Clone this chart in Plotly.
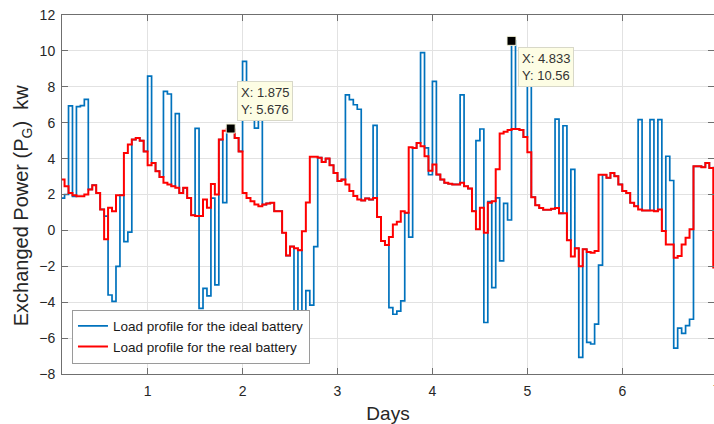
import numpy as np
import plotly.graph_objects as go

# Hourly samples (hour index counted from day 0), first sample at hour 2
start_hour = 2

ideal_battery = [
    1.8, 2.0, 6.94, 1.9, 6.9, 6.95, 7.3, 2.28, 2.52, 2.09,          # h2-h11
    1.17, 0.8, -3.6, -3.95, -2.0, 1.96, -0.63, -0.1, 5.06, 5.15,    # h12-h21
    5.0, 4.4, 8.6, 3.76, 3.3, 2.98, 7.75, 7.6, 2.46, 6.5,           # h22-h31
    2.09, 2.37, 1.81, 0.85, 5.68, -4.34, -3.23, -3.65, 1.8, -3.04,  # h32-h41
    5.06, 1.55, 5.5, 5.676, 5.15, 4.4, 9.42, 7.2, 7.2, 5.7,         # h42-h51
    7.2, 1.44, 1.5, 1.54, 1.07, 1.07, -0.13, -1.4, -0.9, -6.0,      # h52-h61
    -1.1, -5.8, -3.36, -4.16, -0.9, 4.05, 3.81, 4.0, 3.63, 3.2,     # h62-h71
    2.75, 2.83, 7.55, 7.28, 7.0, 6.75, 1.67, 1.78, 1.72, 5.85,      # h72-h81
    0.74, -0.59, -0.81, -4.3, -4.67, -4.5, -3.93, 0.98, -0.37, 4.59,  # h82-h91
    4.87, 9.9, 4.6, 3.1, 8.3, 3.11, 2.83, 2.65, 2.6, 2.56,          # h92-h101
    2.56, 7.55, 2.46, 2.33, 1.07, 5.0, 5.65, -5.13, 1.6, -3.19,     # h102-h111
    1.81, -1.7, 1.5, 0.58, 10.56, 5.65, 5.6, 5.2, 9.0, 1.85,        # h112-h121
    1.4, 1.25, 1.15, 1.15, 1.2, 6.2, 0.95, 5.83, -0.55, 3.4,        # h122-h131
    -1.0, -7.07, -1.05, -6.24, -6.33, -5.22, -1.93, 3.1, 2.93, 3.2, # h132-h141
    3.02, 2.56, 2.19, 2.09, 1.54, 1.35, 6.17, 1.11, 1.11, 6.17,     # h142-h151
    1.07, 6.17, -0.04, 4.13, 2.78, -6.56, -5.44, -5.74, -5.3, -4.95,  # h152-h161
    3.57, 3.57, 3.52, 3.76, 3.48, 3.5,                              # h162-h167
]

real_battery = [
    2.83, 2.46, 2.09, 1.96, 1.9, 1.9, 2.0, 2.28, 2.52, 2.09,        # h2-h11
    1.17, -0.5, 1.26, 1.07, 1.96, 1.96, 4.31, 4.78, 5.06, 5.15,     # h12-h21
    5.0, 4.4, 3.63, 3.76, 3.3, 2.98, 2.65, 2.56, 2.46, 2.37,        # h22-h31
    2.09, 2.37, 1.81, 0.85, 0.8, 0.8, 1.72, 1.26, 2.59, 2.0,        # h32-h41
    5.06, 5.55, 5.65, 5.6, 5.15, 4.4, 2.09, 1.81, 1.63, 1.44,       # h42-h51
    1.35, 1.44, 1.5, 1.54, 1.07, 1.07, -0.13, -1.4, -0.9, -1.0,     # h52-h61
    -1.1, -0.05, 1.55, 4.1, 4.1, 4.05, 3.81, 4.0, 3.63, 3.2,        # h62-h71
    2.75, 2.83, 2.56, 2.19, 1.91, 1.72, 1.67, 1.78, 1.72, 1.81,     # h72-h81
    0.74, -0.59, -0.81, -0.37, 0.33, 0.48, 1.07, 0.98, 4.63, 4.59,  # h82-h91
    4.87, 4.69, 4.13, 3.33, 3.67, 3.11, 2.83, 2.65, 2.6, 2.56,      # h92-h101
    2.56, 2.65, 2.46, 2.33, 1.07, 0.06, 1.26, -0.13, 1.54, 1.63,    # h102-h111
    3.4, 5.4, 5.5, 5.6, 5.65, 5.65, 5.6, 5.2, 4.35, 1.85,           # h112-h121
    1.4, 1.25, 1.15, 1.15, 1.2, 1.25, 0.95, 0.95, -0.55, -1.45,     # h122-h131
    -1.0, -2.0, -1.05, -1.2, -1.25, -1.15, 3.1, 3.1, 2.93, 3.2,     # h132-h141
    3.02, 2.56, 2.19, 2.09, 1.54, 1.35, 1.17, 1.11, 1.11, 1.11,     # h142-h151
    1.07, 1.17, -0.04, -0.78, -0.78, -1.52, -1.43, -0.78, -0.41, 0.06,  # h152-h161
    3.57, 3.57, 3.52, 3.76, 3.48, -2.07,                            # h162-h167
]

tip_x = [1.875, 4.833]
tip_y = [5.676, 10.56]
tip_labels = ["X: 1.875<br>Y: 5.676", "X: 4.833<br>Y: 10.56"]

x_ticks = [1, 2, 3, 4, 5, 6]
y_ticks = list(range(-8, 13, 2))

hours = np.arange(start_hour, start_hour + len(ideal_battery) + 1)
days = hours / 24.0
ideal_y = ideal_battery + [ideal_battery[-1]]
real_y = real_battery + [real_battery[-1]]

FONT = "Liberation Sans, Arial, Helvetica, sans-serif"
AX = "#6f6f6f"
GRID = "#e2e2e2"
TXT = "#262626"

fig = go.Figure()
fig.add_trace(go.Scatter(x=days, y=ideal_y, mode="lines", line_shape="hv",
                         line=dict(color="#0072BD", width=1.7),
                         name="Load profile for the ideal battery"))
fig.add_trace(go.Scatter(x=days, y=real_y, mode="lines", line_shape="hv",
                         line=dict(color="#FF0000", width=2),
                         name="Load profile for the real battery"))
fig.add_trace(go.Scatter(x=tip_x, y=tip_y, mode="markers", showlegend=False,
                         marker=dict(symbol="square", size=9, color="black",
                                     line=dict(color="#f5f5dc", width=1))))
fig.add_trace(go.Scatter(x=[], y=[], yaxis="y2", showlegend=False))

fig.update_layout(
    width=714, height=424,
    margin=dict(l=62, r=0, t=15, b=50),
    paper_bgcolor="white", plot_bgcolor="white",
    font=dict(family=FONT, color=TXT, size=14),
    showlegend=True,
    legend=dict(x=0.0153, y=0.029, xanchor="left", yanchor="bottom",
                bgcolor="white", bordercolor="#9a9a9a", borderwidth=1,
                font=dict(size=13.5, color="#1a1a1a"), tracegroupgap=0),
    xaxis=dict(range=[0.098, 6.966], tickvals=x_ticks, ticks="inside", ticklen=6,
               tickcolor=AX, showline=True, linecolor=AX, linewidth=1, mirror="ticks",
               showgrid=True, gridcolor=GRID, zeroline=False,
               tickfont=dict(size=14, color=TXT), ticklabelstandoff=4,
               title=dict(text="Days", font=dict(size=19, color=TXT), standoff=8)),
    yaxis=dict(range=[-8, 12], tickvals=y_ticks, ticks="inside", ticklen=6,
               tickcolor=AX, showline=True, linecolor=AX, linewidth=1, mirror=False,
               showgrid=True, gridcolor=GRID, zeroline=False,
               tickfont=dict(size=14, color=TXT), ticklabelstandoff=3),
    yaxis2=dict(range=[-8, 12], tickvals=y_ticks, overlaying="y", side="right",
                ticks="inside", ticklen=6, tickcolor=AX, showticklabels=False,
                showgrid=False, showline=False, zeroline=False),
)

fig.add_annotation(text="Exchanged Power (P<sub>G</sub>)&nbsp; kw", textangle=-90,
                   xref="paper", yref="paper", x=-0.0613, y=0.47,
                   xanchor="center", yanchor="middle", showarrow=False,
                   font=dict(size=20, color=TXT))
fig.add_annotation(text="7", xref="paper", yref="paper", x=1.0049, y=-0.045,
                   xanchor="center", yanchor="middle", showarrow=False,
                   font=dict(size=14, color=TXT))

# data tips
fig.add_annotation(x=tip_x[0], y=tip_y[0], text=tip_labels[0], showarrow=False,
                   xanchor="left", yanchor="bottom", xshift=6, yshift=8, align="left",
                   bgcolor="#fdfde4", bordercolor="#d8d8c8", borderwidth=1, borderpad=3,
                   font=dict(size=13, color="#333333"))
fig.add_annotation(x=tip_x[1], y=tip_y[1], text=tip_labels[1], showarrow=False,
                   xanchor="left", yanchor="top", xshift=6, yshift=-6, align="left",
                   bgcolor="#fdfde4", bordercolor="#d8d8c8", borderwidth=1, borderpad=3,
                   font=dict(size=13, color="#333333"))

fig.write_html("out.html")
